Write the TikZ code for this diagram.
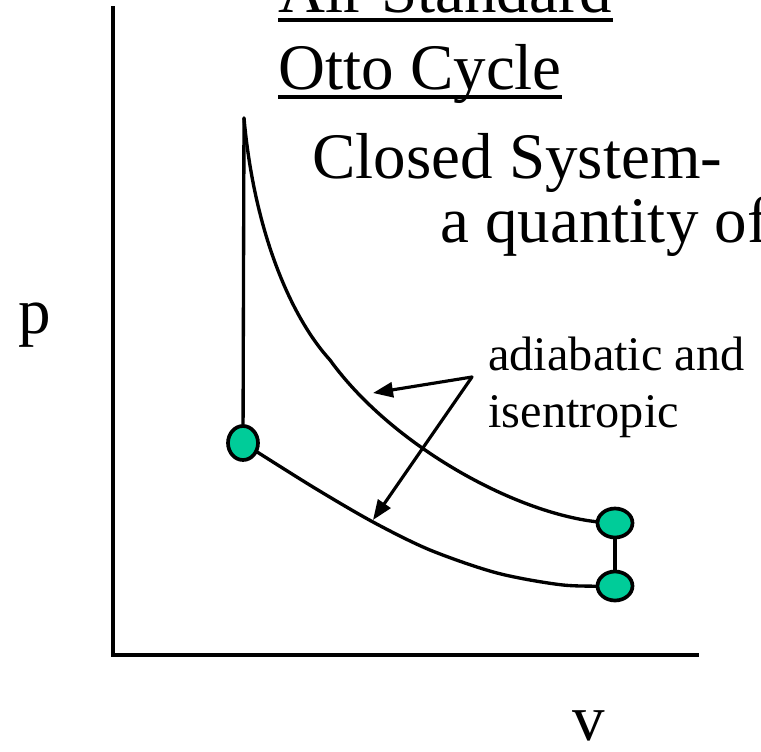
\documentclass[tikz,border=0pt]{standalone}
\usepackage{fontspec}
\setmainfont{Liberation Serif}
\usetikzlibrary{arrows.meta,shapes.geometric}
\definecolor{ink}{HTML}{000000}
\definecolor{state}{HTML}{00CC99}

\begin{document}
\begin{tikzpicture}[
  x=0.02cm, y=-0.02cm,
  >={Triangle[length=0.4cm,width=0.3cm]},
  every path/.style={line cap=round},
  bigtext/.style={font=\fontsize{37}{44}\selectfont, inner sep=0pt, anchor=base west, ink},
  smalltext/.style={font=\fontsize{27.5}{33}\selectfont, inner sep=0pt, anchor=base west, ink},
  axis/.style={ink, line width=2.4pt, line cap=rect},
  process/.style={ink, line width=1.9pt},
  uline/.style={ink, line width=1.9pt, line cap=butt},
  pointer/.style={->, ink, line width=1.8pt},
  statept/.style={ellipse, draw=ink, line width=2.1pt, fill=state, inner sep=0pt},
]
\useasboundingbox (0,0) rectangle (761,751);

% ---------- axes ----------
\coordinate (origin) at (113,655);
\coordinate (ptop)   at (113,8);
\coordinate (vend)   at (697,655);
\draw[axis] (ptop) -- (origin) -- (vend);
\node[bigtext] (plabel) at (18,333) {p};
\node[bigtext] (vlabel) at (572,740) {v};

% ---------- titles ----------
\node[bigtext] (air)    at (278,12)  {Air Standard};
\node[bigtext] (otto)   at (278,89)  {Otto Cycle};
\node[bigtext] (closed) at (312,178) {Closed System-};
\node[bigtext] (qty)    at (440,242) {a quantity of};
\foreach \t in {air, otto}
  \draw[uline] ([yshift=-0.16cm]\t.base west) -- ([yshift=-0.16cm]\t.base east);

% ---------- cycle ----------
\coordinate (top) at (244,118);
\coordinate (mid) at (330,360);
\coordinate (c1)  at (243,443);
\coordinate (c2)  at (615,523);
\coordinate (c3)  at (615,586);

\draw[process] (top) -- (c1);
\draw[process] (c2) -- (c3);
% expansion
\draw[process] (top) .. controls (254,230) and (290,316) .. (mid)
                     .. controls (395,450) and (530,522) .. (c2);
% compression
\draw[process] plot[smooth] coordinates {(243,443) (313,487) (373,522)
  (430,550) (497,573) (563,585) (615,586)};

\node[statept, minimum width=0.6cm, minimum height=0.68cm] (s1) at (c1) {};
\node[statept, minimum width=0.7cm, minimum height=0.58cm] (s2) at (c2) {};
\node[statept, minimum width=0.7cm, minimum height=0.58cm] (s3) at (c3) {};

% ---------- label with two pointers ----------
\node[smalltext] (adia) at (488,370) {adiabatic and};
\node[smalltext] (isen) at (488,427) {isentropic};
\coordinate (fork)   at (472,377);
\coordinate (upper)  at (373,393);
\coordinate (lower)  at (373,520);
\foreach \tip in {upper, lower}
  \draw[pointer] (fork) -- (\tip);

\end{tikzpicture}
\end{document}
